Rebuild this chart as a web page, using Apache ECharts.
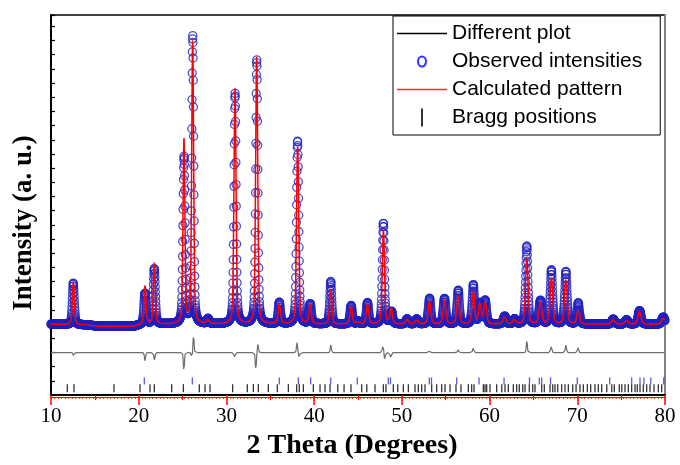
<!DOCTYPE html>
<html>
<head>
<meta charset="utf-8">
<script src="https://cdn.jsdelivr.net/npm/echarts@6/dist/echarts.min.js"></script>
<style>
  html, body { margin: 0; padding: 0; background: #fff; }
  #chart { width: 680px; height: 465px; }
</style>
</head>
<body>
<div id="chart"></div>
<script>
// Scan range and step (degrees 2θ)
const scanStart = 10;
const scanEnd = 80;
const scanStep = 0.02;

// Refined reflections: position (2θ), calculated height (a.u.), FWHM (deg)
const peakPos = [12.55, 20.72, 21.78, 25.16, 26.15, 27.9, 30.98, 33.45, 36.03, 38.12,
                 39.55, 41.89, 44.22, 45.0, 46.08, 47.9, 48.78, 50.6, 51.7, 53.15,
                 54.86, 56.42, 58.15, 58.9, 59.5, 61.72, 62.85, 64.24, 65.8, 67.05,
                 68.7, 70.12, 74.1, 75.62, 77.1, 79.8];
const peakHeight = [310, 275, 440, 1300, 2000, 35, 1660, 1890, 150, 1250,
                    140, 245, 130, 20, 150, 670, 115, 35, 35, 165,
                    180, 205, 235, 145, 165, 55, 35, 470, 165, 325,
                    315, 110, 35, 30, 95, 50];
const peakFwhm = [0.26, 0.26, 0.26, 0.26, 0.26, 0.3, 0.28, 0.28, 0.3, 0.3,
                  0.3, 0.3, 0.3, 0.3, 0.3, 0.3, 0.3, 0.34, 0.34, 0.34,
                  0.34, 0.34, 0.34, 0.34, 0.34, 0.36, 0.36, 0.34, 0.36, 0.36,
                  0.36, 0.36, 0.38, 0.38, 0.38, 0.38];

// Residual features (observed minus calculated)
const residPos = [12.6, 20.72, 21.8, 25.15, 26.05, 26.25, 30.95, 33.35, 33.6, 38.05,
                  38.3, 41.9, 47.85, 48.05, 48.75, 53.2, 56.45, 58.15, 64.25, 67.05,
                  68.7, 70.1];
const residAmp = [-25, -60, -55, -130, -40, 120, -40, -120, 60, 70,
                  -35, 55, 55, -50, -45, 20, 35, 40, 80, 55,
                  55, 40];

// Background anchor points
const bgPos = [10, 14, 15.5, 19.5, 20.5, 80];
const bgLevel = [0, -5, -15, -15, 0, 0];

// Bragg reflection positions: main phase and secondary phase
const braggMain = [11.86, 12.62, 17.18, 20.15, 21.29, 21.78, 23.76, 25.09, 26.91, 27.56,
  28.13, 30.71, 32.38, 33.07, 33.64, 34.78, 35.80, 37.06, 38.01, 38.31,
  38.77, 39.91, 40.67, 41.24, 41.81, 42.69, 43.41, 44.2, 45.42, 46.0,
  46.94, 47.89, 48.19, 49.03, 49.53, 50.17, 50.74, 51.5, 51.88, 52.26,
  52.64, 53.4, 53.97, 54.54, 54.92, 55.49, 56.17, 56.74, 57.58, 57.96,
  58.23, 59.29, 59.48, 59.67, 60.05, 60.81, 61.39, 61.76, 62.14, 62.71,
  63.09, 63.39, 63.78, 64.04, 64.53, 64.92, 65.18, 65.94, 66.24, 66.89,
  67.2, 67.46, 67.77, 68.22, 68.6, 68.98, 69.48, 69.86, 70.31, 70.69,
  71.15, 71.53, 72.02, 72.4, 72.78, 73.36, 73.93, 74.22, 74.79, 75.07,
  75.44, 75.82, 76.2, 76.58, 76.84, 77.15, 77.53, 77.91, 78.29, 78.75,
  79.24, 79.62];
const braggSecond = [20.64, 26.11, 36.03, 38.2, 39.6, 41.89, 44.92, 48.45, 48.7, 53.13,
  53.38, 56.25, 58.8, 61.65, 64.55, 65.67, 65.94, 66.95, 70.0, 73.7,
  76.2, 77.15, 77.6, 78.38, 79.85];

// Axis labels and legend names
const xAxisTitle = '2 Theta (Degrees)';
const yAxisTitle = 'Intensity (a. u.)';
const legendNames = ['Different plot', 'Observed intensities', 'Calculated pattern', 'Bragg positions'];

// Vertical placement of the lower strips (in intensity units)
const DIFF_BASE = -200;
const BRAGG_MAIN_LEVEL = -451;
const BRAGG_SECOND_LEVEL = -400;

function pseudoVoigt(x, x0, fwhm, eta) {
  const d = (x - x0) / fwhm;
  const g = Math.exp(-4 * Math.LN2 * d * d);
  const l = 1 / (1 + 4 * d * d);
  return eta * l + (1 - eta) * g;
}

function background(x) {
  for (let i = 0; i < bgPos.length - 1; i++) {
    if (x >= bgPos[i] && x <= bgPos[i + 1]) {
      const t = (x - bgPos[i]) / (bgPos[i + 1] - bgPos[i]);
      return bgLevel[i] + t * (bgLevel[i + 1] - bgLevel[i]);
    }
  }
  return bgLevel[bgLevel.length - 1];
}

const calcData = [];
const obsData = [];
const diffData = [];
const nSteps = Math.round((scanEnd - scanStart) / scanStep);
for (let i = 0; i <= nSteps; i++) {
  const x = +(scanStart + i * scanStep).toFixed(2);
  let yc = background(x);
  for (let k = 0; k < peakPos.length; k++) {
    yc += peakHeight[k] * pseudoVoigt(x, peakPos[k], peakFwhm[k], 0.35);
  }
  let r = 0;
  for (let k = 0; k < residPos.length; k++) {
    const d = (x - residPos[k]) / 0.15;
    r += residAmp[k] * Math.exp(-4 * Math.LN2 * d * d);
  }
  calcData.push([x, yc]);
  obsData.push([x, yc + r]);
  diffData.push([x, DIFF_BASE + r]);
}

const serifFont = '"Liberation Serif", "Times New Roman", serif';
const sansFont = '"Liberation Sans", Arial, sans-serif';

const chart = echarts.init(document.getElementById('chart'));
chart.setOption({
  animation: false,
  grid: {
    left: 51, right: 15, top: 15, bottom: 69,
    show: true, borderColor: '#000', borderWidth: 1.5, backgroundColor: 'transparent'
  },
  legend: {
    orient: 'vertical',
    left: 393, top: 16,
    padding: [7, 18, 7, 4],
    itemWidth: 50, itemHeight: 18, itemGap: 7,
    borderColor: '#000', borderWidth: 1, backgroundColor: '#fff',
    selectedMode: false,
    textStyle: { fontFamily: sansFont, fontSize: 21, color: '#000', lineHeight: 18 },
    data: [
      { name: legendNames[0], icon: 'path://M0,0h50v1.3h-50z',
        itemStyle: { color: '#000', borderWidth: 0 } },
      { name: legendNames[1], icon: 'path://M9,0M9,18M9,4A4,5 0 1,1 8.99,4Z',
        itemStyle: { color: 'rgba(0,0,0,0)', borderColor: '#0000ff', borderWidth: 2 } },
      { name: legendNames[2], icon: 'path://M0,0h50v1.4h-50z',
        itemStyle: { color: '#ff2a2a', borderColor: '#ff2a2a', borderWidth: 0 } },
      { name: legendNames[3], icon: 'path://M0,0h2v18h-2z',
        itemStyle: { color: '#000', borderWidth: 0 } }
    ]
  },
  xAxis: [
    {
      type: 'value', min: scanStart, max: scanEnd, interval: 10, position: 'bottom',
      axisLine: { onZero: false, lineStyle: { color: '#000', width: 2 } },
      axisTick: { length: 10, lineStyle: { color: '#ff0000', width: 1.5 } },
      minorTick: { show: true, splitNumber: 2, length: 5, lineStyle: { color: '#ff0000', width: 1.2 } },
      axisLabel: { margin: 11, fontFamily: serifFont, fontSize: 21, color: '#000' },
      splitLine: { show: false },
      name: xAxisTitle, nameLocation: 'middle', nameGap: 31,
      nameTextStyle: { fontFamily: serifFont, fontSize: 28, fontWeight: 'bold', color: '#000', padding: [0, 12, 0, 0] }
    },
    {
      type: 'value', min: scanStart, max: scanEnd, interval: 0.4, position: 'top', offset: -382,
      axisLine: { onZero: false, lineStyle: { color: '#ff0000', width: 1 } },
      axisTick: { inside: true, length: 2, lineStyle: { color: '#ff0000', width: 0.8 } },
      axisLabel: { show: false },
      splitLine: { show: false }
    }
  ],
  yAxis: [
    {
      type: 'value', min: -500, max: 2180, interval: 100, position: 'left',
      axisLine: { show: true, onZero: false, lineStyle: { color: '#000', width: 2 } },
      axisTick: { show: true, inside: true, length: 4, lineStyle: { color: '#000', width: 1.2 } },
      axisLabel: { show: false },
      splitLine: { show: false },
      name: yAxisTitle, nameLocation: 'middle', nameGap: 13, nameRotate: 90,
      nameTextStyle: { fontFamily: serifFont, fontSize: 27, fontWeight: 'bold', color: '#000', padding: [0, 36, 0, 0] }
    },
    {
      type: 'value', min: -500, max: 2180, position: 'right',
      axisLine: { show: true, onZero: false, lineStyle: { color: '#9a9a9a', width: 1.5 } },
      axisTick: { show: false }, axisLabel: { show: false }, splitLine: { show: false }
    }
  ],
  series: [
    {
      name: legendNames[0], type: 'line', data: diffData, symbol: 'none',
      lineStyle: { color: '#6e6e6e', width: 1.2 }, z: 2, silent: true
    },
    {
      name: legendNames[1], type: 'scatter', data: obsData, symbol: 'circle', symbolSize: 8,
      large: false, progressive: 0,
      itemStyle: { color: 'rgba(0,0,0,0)', borderColor: '#2222c0', borderWidth: 1.3 },
      z: 3, silent: true
    },
    {
      name: legendNames[2], type: 'line', data: calcData, symbol: 'none',
      lineStyle: { color: '#ff0000', width: 1.5 }, z: 4, silent: true
    },
    {
      name: legendNames[3], type: 'scatter', data: braggMain.map(p => [p, BRAGG_MAIN_LEVEL]),
      symbol: 'rect', symbolSize: [1.3, 8], itemStyle: { color: '#000' }, z: 5, silent: true
    },
    {
      name: 'Bragg positions (phase 2)', type: 'scatter', data: braggSecond.map(p => [p, BRAGG_SECOND_LEVEL]),
      symbol: 'rect', symbolSize: [1.3, 7], itemStyle: { color: '#3333cc' }, z: 5, silent: true
    }
  ]
});
</script>
</body>
</html>
